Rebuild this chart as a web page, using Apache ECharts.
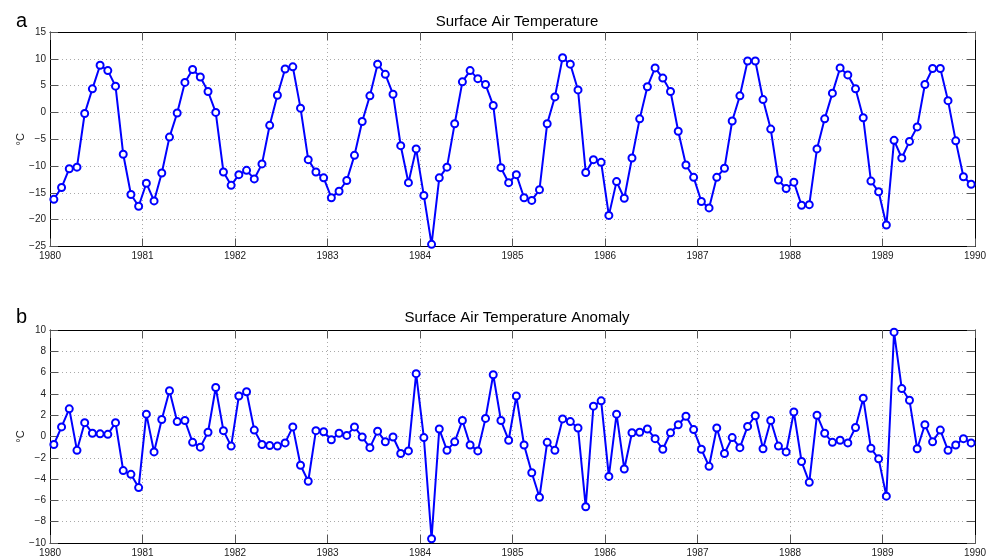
<!DOCTYPE html>
<html>
<head>
<meta charset="utf-8">
<script src="https://cdn.jsdelivr.net/npm/echarts@6/dist/echarts.min.js"></script>
<style>html,body{margin:0;padding:0;background:#fff;}#c{width:997px;height:558px;}</style>
</head>
<body>
<div id="c"></div>
<script>
// Monthly values, Jan 1980 .. Dec 1989
const startYear = 1980;
const endYear = 1990;
const airTemp = [
  -16.2, -14.0, -10.5, -10.2, -0.2, 4.4, 8.8, 7.8, 4.9, -7.8, -15.3, -17.5,
  -13.2, -16.5, -11.3, -4.6, -0.1, 5.6, 8.0, 6.6, 3.9, 0.0, -11.1, -13.6,
  -11.6, -10.8, -12.4, -9.6, -2.4, 3.2, 8.1, 8.5, 0.8, -8.8, -11.1, -12.2,
  -15.9, -14.7, -12.7, -8.0, -1.7, 3.1, 9.0, 7.1, 3.4, -6.2, -13.1, -6.8,
  -15.5, -24.6, -12.2, -10.2, -2.1, 5.7, 7.8, 6.3, 5.2, 1.3, -10.3, -13.1,
  -11.6, -15.9, -16.4, -14.4, -2.1, 2.9, 10.2, 9.0, 4.2, -11.2, -8.8, -9.3,
  -19.2, -12.9, -16.0, -8.5, -1.2, 4.8, 8.3, 6.4, 3.9, -3.5, -9.8, -12.1,
  -16.6, -17.8, -12.1, -10.4, -1.6, 3.1, 9.6, 9.6, 2.4, -3.1, -12.6, -14.2,
  -13.0, -17.3, -17.2, -6.8, -1.2, 3.6, 8.3, 7.0, 4.4, -1.0, -12.8, -14.8,
  -21.0, -5.2, -8.5, -5.4, -2.7, 5.2, 8.2, 8.2, 2.2, -5.3, -12.0, -13.4
];
const anomaly = [
  -0.75, 0.9, 2.6, -1.3, 1.3, 0.3, 0.25, 0.2, 1.3, -3.2, -3.55, -4.8,
  2.1, -1.45, 1.6, 4.3, 1.4, 1.5, -0.55, -1.0, 0.4, 4.6, 0.55, -0.9,
  3.8, 4.2, 0.6, -0.75, -0.85, -0.9, -0.6, 0.9, -2.7, -4.2, 0.55, 0.45,
  -0.3, 0.3, 0.1, 0.9, -0.05, -1.05, 0.5, -0.5, -0.05, -1.6, -1.35, 5.9,
  -0.1, -9.6, 0.7, -1.3, -0.5, 1.5, -0.8, -1.35, 1.7, 5.8, 1.5, -0.35,
  3.8, -0.8, -3.4, -5.7, -0.55, -1.3, 1.65, 1.4, 0.8, -6.6, 2.85, 3.35,
  -3.75, 2.1, -3.05, 0.35, 0.4, 0.7, -0.2, -1.2, 0.35, 1.1, 1.9, 0.65,
  -1.2, -2.8, 0.8, -1.6, -0.1, -1.05, 0.95, 1.95, -1.15, 1.5, -0.9, -1.45,
  2.3, -2.35, -4.3, 2.0, 0.3, -0.55, -0.35, -0.6, 0.85, 3.6, -1.1, -2.1,
  -5.6, 9.8, 4.5, 3.4, -1.15, 1.1, -0.5, 0.6, -1.3, -0.8, -0.2, -0.6
];
const topTitle = 'Surface Air Temperature';
const bottomTitle = 'Surface Air Temperature Anomaly';
const yUnit = '\u00B0C';

function toPoints(vals) {
  return vals.map((v, i) => [startYear + (i + 0.5) / 12, v]);
}
const minus = v => String(v).replace('-', '\u2212');
const FONT = 'Liberation Sans, Arial, Helvetica, sans-serif';
const BLUE = '#0000ff';
const labelStyle = { color: '#222', fontSize: 10, fontFamily: FONT };
const tickStyle = { inside: true, length: 8, lineStyle: { color: '#555', width: 1 } };

function xAxes(gi) {
  return [
    {
      type: 'value', gridIndex: gi, min: startYear, max: endYear, interval: 1,
      axisLine: { onZero: false, lineStyle: { color: '#000', width: 1 } },
      axisTick: tickStyle,
      axisLabel: Object.assign({ margin: 5, formatter: v => String(v) }, labelStyle),
      splitLine: { show: true, lineStyle: { type: [1, 3], color: '#aaa', width: 1 } }
    },
    {
      type: 'value', gridIndex: gi, position: 'top', min: startYear, max: endYear, interval: 1,
      axisLine: { onZero: false, lineStyle: { color: '#000', width: 1 } },
      axisTick: tickStyle,
      axisLabel: { show: false }, splitLine: { show: false }
    }
  ];
}
function yAxes(gi, min, max, interval) {
  return [
    {
      type: 'value', gridIndex: gi, min, max, interval,
      name: yUnit, nameLocation: 'middle', nameGap: 24, nameRotate: 90,
      nameMoveOverlap: false,
      nameTextStyle: { color: '#222', fontSize: 11, fontFamily: FONT },
      axisLine: { show: true, onZero: false, lineStyle: { color: '#000', width: 1 } },
      axisTick: Object.assign({ show: true }, tickStyle),
      axisLabel: Object.assign({ margin: 4, formatter: minus }, labelStyle),
      splitLine: { show: true, lineStyle: { type: [1, 3], color: '#aaa', width: 1 } }
    },
    {
      type: 'value', gridIndex: gi, position: 'right', min, max, interval,
      axisLine: { show: true, onZero: false, lineStyle: { color: '#000', width: 1 } },
      axisTick: Object.assign({ show: true }, tickStyle),
      axisLabel: { show: false }, splitLine: { show: false }
    }
  ];
}
function lineSeries(xi, yi, vals) {
  return {
    type: 'line', xAxisIndex: xi, yAxisIndex: yi, data: toPoints(vals),
    symbol: 'emptyCircle', symbolSize: 7,
    itemStyle: { color: BLUE, borderColor: BLUE, borderWidth: 2.2 },
    lineStyle: { color: BLUE, width: 2 },
    animation: false, silent: true
  };
}

const chart = echarts.init(document.getElementById('c'));
chart.setOption({
  backgroundColor: '#fff',
  animation: false,
  title: [
    { text: topTitle, left: 512, top: 9, textAlign: 'center',
      textStyle: { fontSize: 15, fontWeight: 'normal', color: '#000', fontFamily: FONT } },
    { text: bottomTitle, left: 512, top: 305, textAlign: 'center',
      textStyle: { fontSize: 15, fontWeight: 'normal', color: '#000', fontFamily: FONT } },
    { text: 'a', left: 11, top: 6,
      textStyle: { fontSize: 20, fontWeight: 'normal', color: '#000', fontFamily: FONT } },
    { text: 'b', left: 11, top: 302,
      textStyle: { fontSize: 20, fontWeight: 'normal', color: '#000', fontFamily: FONT } }
  ],
  grid: [
    { left: 50, right: 22, top: 32, height: 214.5 },
    { left: 50, right: 22, top: 330, height: 214 }
  ],
  xAxis: [...xAxes(0), ...xAxes(1)],
  yAxis: [...yAxes(0, -25, 15, 5), ...yAxes(1, -10, 10, 2)],
  series: [
    lineSeries(0, 0, airTemp),
    lineSeries(2, 2, anomaly)
  ]
});
</script>
</body>
</html>
